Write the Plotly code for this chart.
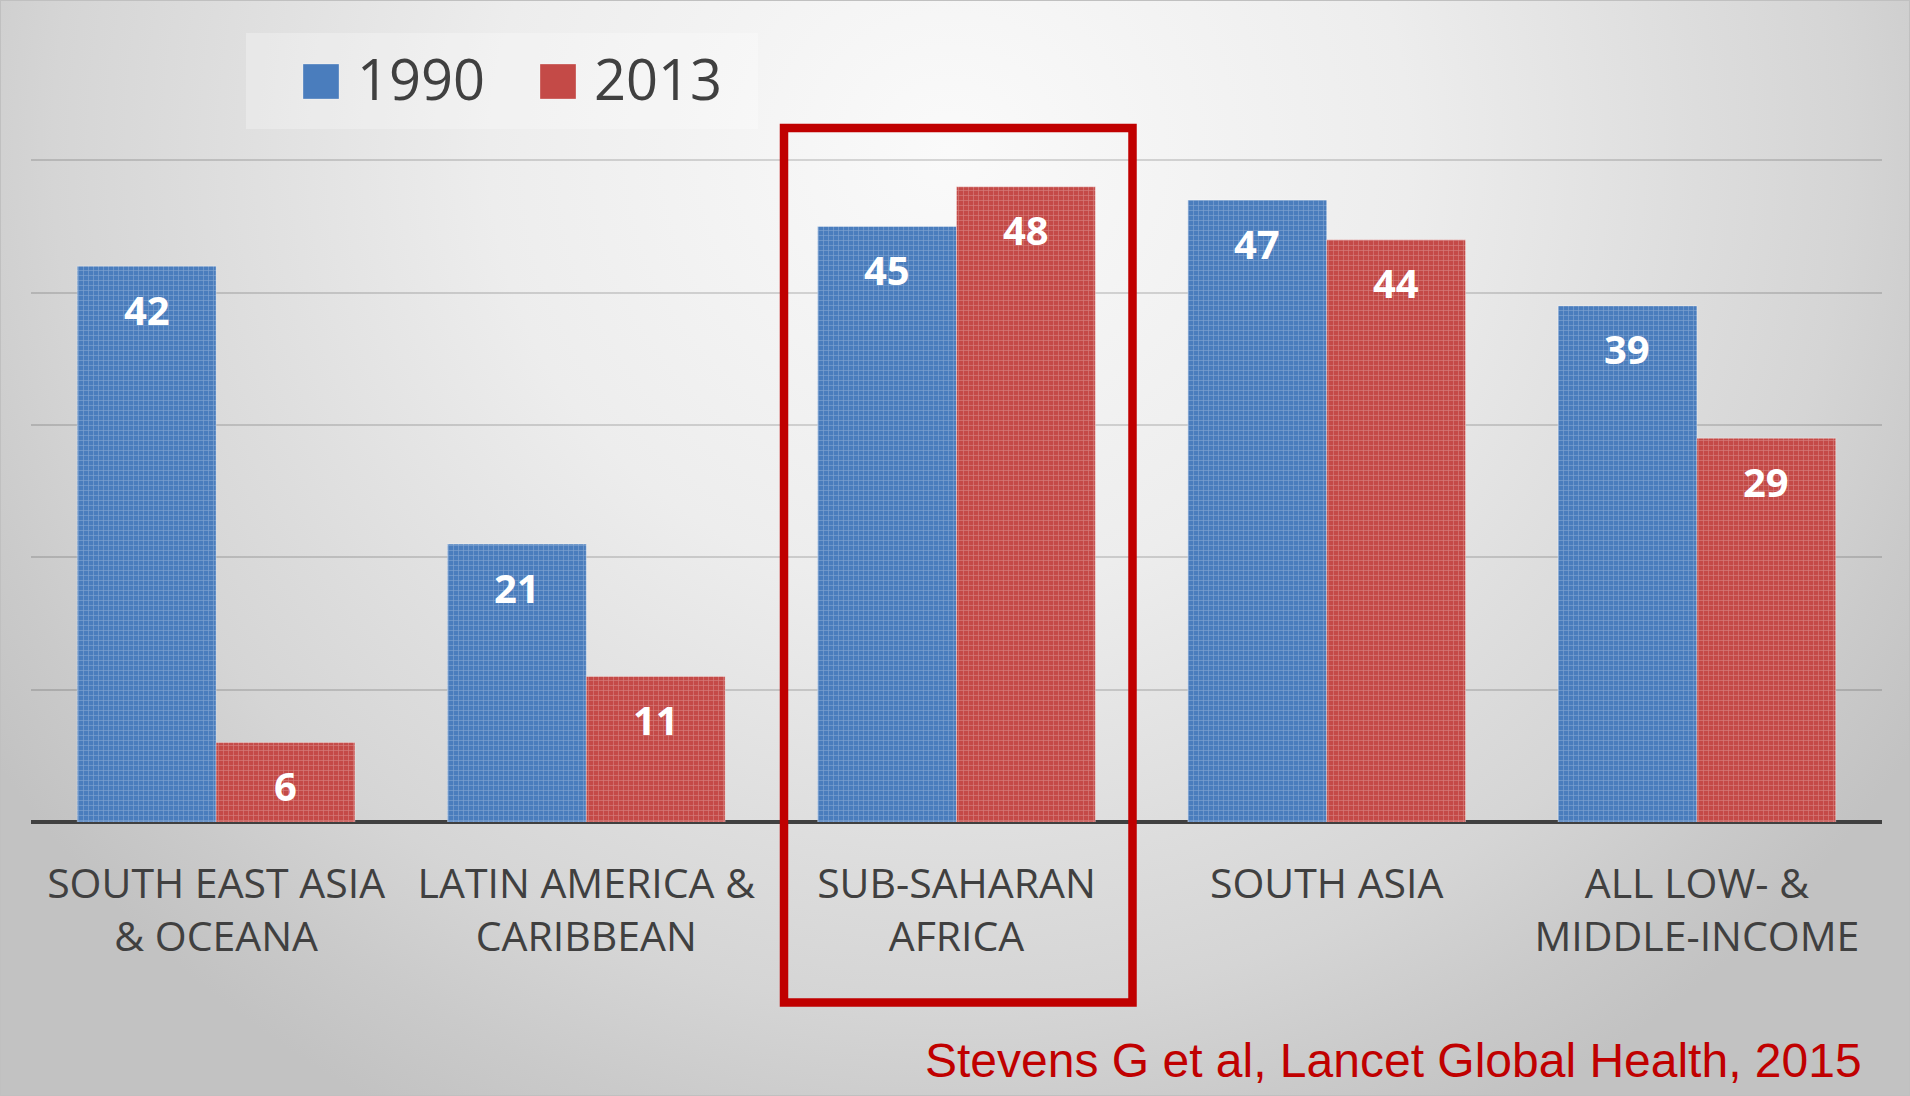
import base64
import plotly.graph_objects as go

# ---------------- data ----------------
categories = [
    "SOUTH EAST ASIA<br>& OCEANA",
    "LATIN AMERICA &<br>CARIBBEAN",
    "SUB-SAHARAN<br>AFRICA",
    "SOUTH ASIA",
    "ALL LOW- &<br>MIDDLE-INCOME",
]
series_names = ["1990", "2013"]
values_1990 = [42, 21, 45, 47, 39]
values_2013 = [6, 11, 48, 44, 29]
citation = "Stevens G et al, Lancet Global Health, 2015"

# ---------------- layout constants ----------------
W, H = 1910, 1096
ML, MR, MT, MB = 31, 28, 28, 274
PW, PH = W - ML - MR, H - MT - MB
BARGAP = 0.25
BLUE = "#4a7dbd"
RED = "#c44a47"
DARK = "#404040"
CRIMSON = "#c00000"


def px2x(px):
    return (px - ML) / PW


def py2y(py):
    return (H - MB - py) / PH


# radial background as an inline SVG image
svg = f"""<svg xmlns='http://www.w3.org/2000/svg' width='{W}' height='{H}' viewBox='0 0 {W} {H}' preserveAspectRatio='none'>
<defs><radialGradient id='g' gradientUnits='userSpaceOnUse' cx='0' cy='0' r='1'
 gradientTransform='translate(950,150) scale(1150,1100)'>
<stop offset='0' stop-color='#fafafa'/>
<stop offset='0.4' stop-color='#ededed'/>
<stop offset='0.65' stop-color='#dddddd'/>
<stop offset='0.78' stop-color='#d5d5d5'/>
<stop offset='0.9' stop-color='#cacaca'/>
<stop offset='1' stop-color='#c2c2c2'/>
</radialGradient></defs>
<rect x='0' y='0' width='{W}' height='{H}' fill='url(#g)'/>
<rect x='0.5' y='0.5' width='{W-1}' height='{H-1}' fill='none' stroke='#c0c0c0' stroke-width='1'/>
</svg>"""
bg_src = "data:image/svg+xml;base64," + base64.b64encode(svg.encode()).decode()

fig = go.Figure()
for name, vals, col in [(series_names[0], values_1990, BLUE), (series_names[1], values_2013, RED)]:
    fig.add_trace(go.Bar(
        x=categories, y=vals, name=name,
        marker=dict(
            color=col,
            line=dict(width=1, color="rgba(255,255,255,0.35)"),
            pattern=dict(shape="+", fgcolor="white", fgopacity=0.28,
                         size=5, solidity=0.25, fillmode="overlay"),
        ),
        showlegend=False,
        hoverinfo="x+y+name",
    ))

# value labels (inside top of each bar)
bar_w_px = PW / len(categories) * (1 - BARGAP) / 2
annotations = []
for k, vals in enumerate([values_1990, values_2013]):
    shift = (-0.5 if k == 0 else 0.5) * bar_w_px
    for c, v in zip(categories, vals):
        annotations.append(dict(
            x=c, y=v, xref="x", yref="y", text=str(v), showarrow=False,
            xshift=shift, yshift=-43, yanchor="middle", xanchor="center",
            font=dict(family="Open Sans", size=40, color="white", weight=700),
        ))

# manual legend texts
for name, left_px in [(series_names[0], 355), (series_names[1], 592)]:
    annotations.append(dict(
        x=px2x(left_px), y=py2y(78), xref="paper", yref="paper", text=name,
        showarrow=False, xanchor="left", yanchor="middle",
        font=dict(family="Open Sans", size=56, color=DARK),
    ))

# citation
annotations.append(dict(
    x=px2x(1864), y=py2y(1060), xref="paper", yref="paper", text=citation,
    showarrow=False, xanchor="right", yanchor="middle",
    font=dict(family="Liberation Sans, Arial", size=48, color=CRIMSON),
))

shapes = [
    # legend panel
    dict(type="rect", xref="paper", yref="paper", layer="below",
         x0=px2x(246), x1=px2x(758), y0=py2y(33), y1=py2y(129),
         fillcolor="rgba(255,255,255,0.28)", line=dict(width=0)),
    # legend swatches
    dict(type="rect", xref="paper", yref="paper",
         x0=px2x(303), x1=px2x(339), y0=py2y(64), y1=py2y(99),
         fillcolor=BLUE, line=dict(width=1, color="rgba(255,255,255,0.3)")),
    dict(type="rect", xref="paper", yref="paper",
         x0=px2x(540), x1=px2x(576), y0=py2y(64), y1=py2y(99),
         fillcolor=RED, line=dict(width=1, color="rgba(255,255,255,0.3)")),
    # highlight box
    dict(type="rect", xref="paper", yref="paper",
         x0=px2x(784), x1=px2x(1132.5), y0=py2y(128), y1=py2y(1002.5),
         fillcolor="rgba(0,0,0,0)", line=dict(width=8.5, color=CRIMSON)),
]

fig.update_layout(
    width=W, height=H,
    margin=dict(l=ML, r=MR, t=MT, b=MB, pad=0),
    paper_bgcolor="#dcdcdc",
    plot_bgcolor="rgba(0,0,0,0)",
    barmode="group", bargap=BARGAP, bargroupgap=0,
    showlegend=False,
    annotations=annotations,
    shapes=shapes,
    images=[dict(source=bg_src, xref="paper", yref="paper",
                 x=-ML / PW, y=1 + MT / PH, sizex=W / PW, sizey=H / PH,
                 xanchor="left", yanchor="top", sizing="stretch", layer="below")],
    xaxis=dict(
        type="category", showgrid=False, showline=False, ticks="",
        tickfont=dict(family="Open Sans", size=41, color=DARK),
        ticklabelstandoff=34, fixedrange=True,
    ),
    yaxis=dict(
        range=[0, 60], dtick=10, showticklabels=False, ticks="",
        showgrid=True, gridcolor="rgba(0,0,0,0.14)", gridwidth=2,
        zeroline=True, zerolinecolor=DARK, zerolinewidth=4,
        showline=False, fixedrange=True,
    ),
)

fig.write_html(
    "out.html",
    config={"displayModeBar": False},
    post_script="document.body.style.margin='0';document.body.style.overflow='hidden';",
)
